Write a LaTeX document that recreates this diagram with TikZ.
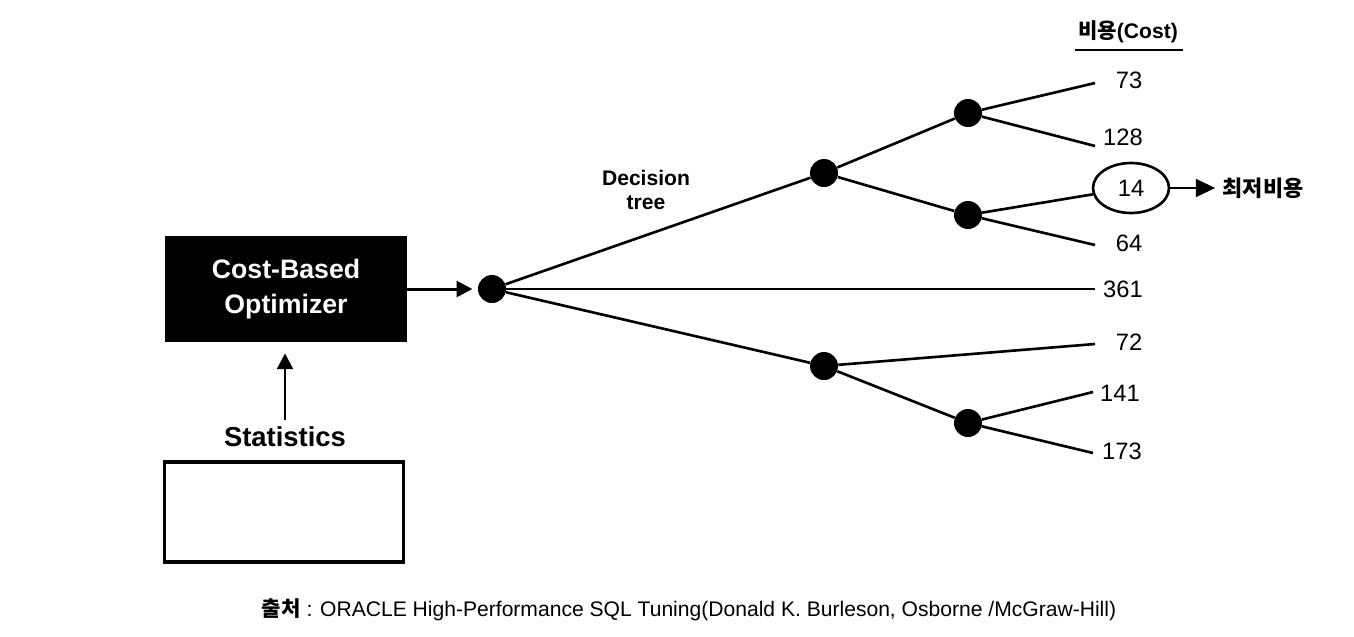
\documentclass[tikz,border=0pt]{standalone}
\usepackage{fontspec}
\setmainfont{Liberation Sans}
\newfontfamily\kr{Noto Sans CJK KR}
\usetikzlibrary{arrows.meta,shapes.geometric}
\begin{document}
\begin{tikzpicture}[x=0.02cm,y=-0.02cm,
  dot/.style={circle,fill=black,inner sep=0pt,minimum size=0.56cm},
  edge/.style={line width=1.5pt},
  num/.style={font=\fontsize{13.5}{15}\selectfont,inner sep=0pt},
  arr/.style={line width=1.7pt,-{Triangle[length=9pt,width=9pt]}}]
\useasboundingbox (0,0) rectangle (1354,636);
% left part
\node[fill=black,text=white,minimum width=4.84cm,minimum height=2.14cm,align=center,
      font=\bfseries\fontsize{15.2}{20}\selectfont] (cbo) at (286,289) {Cost-Based\\Optimizer};
\node[font=\bfseries\fontsize{15.6}{18}\selectfont,inner sep=1pt] (stats) at (285,437) {Statistics};
\node[draw,line width=2.2pt,minimum width=4.78cm,minimum height=2.0cm] (db) at (284,512) {};
\node[dot] (r) at (492,289) {};
\draw[arr,shorten >=3pt] (cbo.east) -- (r.west);
\draw[arr,shorten >=6pt] ([yshift=3pt]stats.north) -- (stats.north |- cbo.south);
% tree
\node[align=center,font=\bfseries\fontsize{12}{13.5}\selectfont] (dt) at (646,190) {Decision\\tree};
\node[dot] (a) at (824,173) {};
\node[dot] (b) at (968,113) {};
\node[dot] (c) at (968,215) {};
\node[dot] (d) at (824,366) {};
\node[dot] (e) at (968,423) {};
\coordinate (e73) at (1095,83);
\coordinate (e128) at (1095,146);
\coordinate (e64) at (1095,245);
\coordinate (e361) at (1095,289);
\coordinate (e72) at (1095,344);
\coordinate (e141) at (1093,392);
\coordinate (e173) at (1093,453);
\node[num] (t73) at (1129,80) {73};
\node[num] (t128) at (1123,137) {128};
\node[draw,ellipse,line width=1.5pt,minimum width=1.52cm,minimum height=1.0cm,num] (t14) at (1131,188) {14};
\node[num] (t64) at (1129,243) {64};
\node[num] (t361) at (1123,289) {361};
\node[num] (t72) at (1129,342) {72};
\node[num] (t141) at (1120,393) {141};
\node[num] (t173) at (1122,451) {173};
\draw[edge] (r) -- (a);
\draw[edge] (r) -- (e361);
\draw[edge] (r) -- (d);
\draw[edge] (a) -- (b);
\draw[edge] (a) -- (c);
\draw[edge] (b) -- (e73);
\draw[edge] (b) -- (e128);
\draw[edge] (c) -- (t14);
\draw[edge] (c) -- (e64);
\draw[edge] (d) -- (e72);
\draw[edge] (d) -- (e);
\draw[edge] (e) -- (e141);
\draw[edge] (e) -- (e173);
% lowest cost
\node[font=\kr\bfseries\fontsize{12.5}{14}\selectfont,inner sep=0pt] (low) at (1263,188) {최저비용};
\draw[arr,-{Triangle[length=11pt,width=10pt]},shorten >=4pt] (t14.east) -- (low.west);
% header
\node[font=\bfseries\fontsize{12}{14}\selectfont,inner sep=1pt] (hdr) at (1128,32) {{\kr 비용}(Cost)};
\coordinate (ul1) at (1075,50);
\coordinate (ul2) at (1183,50);
\draw[line width=1pt] (ul1) -- (ul2);
% source
\node[font=\fontsize{12}{14}\selectfont] (src) at (689,610) {{\kr\bfseries 출처} : ORACLE High-Performance SQL Tuning(Donald K. Burleson, Osborne /McGraw-Hill)};
\end{tikzpicture}
\end{document}
